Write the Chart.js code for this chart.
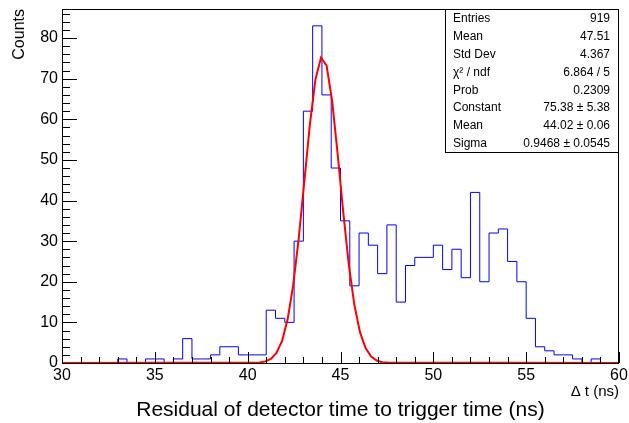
<!DOCTYPE html>
<html>
<head>
<meta charset="utf-8">
<script src="https://cdn.jsdelivr.net/npm/chart.js@4/dist/chart.umd.min.js"></script>
<style>
  html, body { margin: 0; padding: 0; background: #fff; }
  #wrap { width: 629px; height: 423px; }
</style>
</head>
<body>
<div id="wrap"><canvas id="c" width="629" height="423"></canvas></div>
<script>
// histogram: 60 bins of 0.5 ns from 30 to 60
const xMin = 30, xMax = 60, binWidth = 0.5;
const counts = [
  0, 0, 0, 0, 0, 0, 1, 0, 0, 1,
  1, 0, 1, 6, 1, 1, 2, 4, 4, 2,
  2, 2, 13, 11, 10, 30, 62, 83, 66, 48,
  35, 19, 32, 29, 22, 34, 15, 24, 26, 26,
  29, 23, 28, 21, 42, 20, 32, 33, 25, 20,
  11, 4, 3, 2, 2, 1, 0, 1, 0, 0
];

// gaussian fit curve
const fitX = [30, 40.65, 40.95, 41.25, 41.55, 41.85, 42.15, 42.45, 42.75, 43.05, 43.35, 43.65, 43.95,
  44.25, 44.55, 44.85, 45.15, 45.45, 45.75, 46.05, 46.35, 46.65, 46.95, 47.25, 47.55, 60];
const fitY = [0, 0.1, 0.4, 1.0, 2.5, 5.4, 10.7, 19.1, 30.7, 44.6, 58.7, 69.8, 75.2,
  73.2, 64.5, 51.3, 37.0, 24.1, 14.2, 7.6, 3.7, 1.6, 0.6, 0.2, 0.1, 0];

// stats box
const statLabels = ['Entries', 'Mean', 'Std Dev', 'χ² / ndf', 'Prob', 'Constant', 'Mean', 'Sigma'];
const statValues = ['919', '47.51', '4.367', '6.864 / 5', '0.2309', '75.38 ± 5.38', '44.02 ± 0.06', '0.9468 ± 0.0545'];

const yMax = 87.15;
const FONT = 'Liberation Sans, Arial, Helvetica, sans-serif';

// step outline points at bin edges
const histPts = counts.map((c, i) => ({ x: xMin + i * binWidth, y: c }));
histPts.push({ x: xMax, y: counts[counts.length - 1] });

const fitPts = fitX.map((x, i) => ({ x: x, y: fitY[i] }));

const rootFrame = {
  id: 'rootFrame',
  afterDraw(chart) {
    const { ctx, chartArea: a, scales: { x, y } } = chart;
    ctx.save();
    ctx.strokeStyle = '#000';
    ctx.lineWidth = 1;
    ctx.beginPath();
    // x ticks, pointing up
    for (let v = xMin; v <= xMax; v += 1) {
      const px = Math.round(x.getPixelForValue(v)) + 0.5;
      const len = v % 5 === 0 ? 11 : 6;
      ctx.moveTo(px, a.bottom);
      ctx.lineTo(px, a.bottom - len);
    }
    // y ticks, pointing right
    for (let v = 0; v <= yMax; v += 2) {
      const py = Math.round(y.getPixelForValue(v)) + 0.5;
      const len = v % 10 === 0 ? 15 : 8;
      ctx.moveTo(a.left, py);
      ctx.lineTo(a.left + len, py);
    }
    ctx.stroke();
    ctx.strokeRect(Math.round(a.left) + 0.5, Math.round(a.top) + 0.5,
      Math.round(a.width) - 1, Math.round(a.height));

    // stats box
    const bx = 445.5, by = Math.round(a.top) + 0.5, bw = Math.round(a.right) - 446, bh = 143;
    ctx.fillStyle = '#fff';
    ctx.fillRect(bx, by, bw, bh);
    ctx.strokeRect(bx, by, bw, bh);
    ctx.fillStyle = '#000';
    ctx.font = '12px ' + FONT;
    ctx.textBaseline = 'middle';
    const rowH = 17.8;
    statLabels.forEach((lab, i) => {
      const ty = 19 + i * rowH;
      ctx.textAlign = 'left';
      ctx.fillText(lab, 453, ty);
      ctx.textAlign = 'right';
      ctx.fillText(statValues[i], 610, ty);
    });
    ctx.restore();
  }
};

new Chart(document.getElementById('c').getContext('2d'), {
  type: 'line',
  data: {
    datasets: [
      {
        data: fitPts,
        borderColor: '#ff0000',
        borderWidth: 2,
        pointRadius: 0,
        tension: 0,
        clip: 4
      },
      {
        data: histPts,
        borderColor: '#0000ff',
        borderWidth: 1,
        pointRadius: 0,
        stepped: 'before',
        clip: 4
      }
    ]
  },
  plugins: [rootFrame],
  options: {
    responsive: false,
    animation: false,
    events: [],
    layout: { padding: { left: 0, right: 10, top: 9, bottom: 0 } },
    plugins: {
      legend: { display: false },
      tooltip: { enabled: false },
      title: {
        display: true,
        position: 'bottom',
        fullSize: false,
        text: 'Residual of detector time to trigger time (ns)',
        color: '#000',
        font: { family: FONT, size: 21, weight: 'normal', lineHeight: 1.1 },
        padding: { top: 0, bottom: 1 }
      }
    },
    scales: {
      x: {
        type: 'linear',
        min: xMin,
        max: xMax,
        grid: { display: false, drawTicks: false },
        border: { display: false },
        ticks: { stepSize: 5, color: '#000', padding: 3, maxRotation: 0, font: { family: FONT, size: 16 } },
        title: {
          display: true,
          text: 'Δ t (ns)',
          align: 'end',
          color: '#000',
          font: { family: FONT, size: 15, lineHeight: 1 },
          padding: { top: 0, bottom: 0 }
        },
        afterFit(scale) {
          scale.height = 35.9;
          scale.paddingLeft = 0;
          scale.paddingRight = 0;
        }
      },
      y: {
        min: 0,
        max: yMax,
        grid: { display: false, drawTicks: false },
        border: { display: false },
        ticks: { stepSize: 10, color: '#000', padding: 4, font: { family: FONT, size: 16 } },
        afterBuildTicks(scale) {
          scale.ticks = scale.ticks.filter(t => t.value % 10 === 0);
        },
        title: {
          display: true,
          text: 'Counts',
          align: 'end',
          color: '#000',
          font: { family: FONT, size: 16 },
          padding: { top: 10, bottom: 0 }
        },
        afterFit(scale) {
          scale.width = 62;
          scale.paddingTop = 0;
          scale.paddingBottom = 0;
        }
      }
    }
  }
});
</script>
</body>
</html>
